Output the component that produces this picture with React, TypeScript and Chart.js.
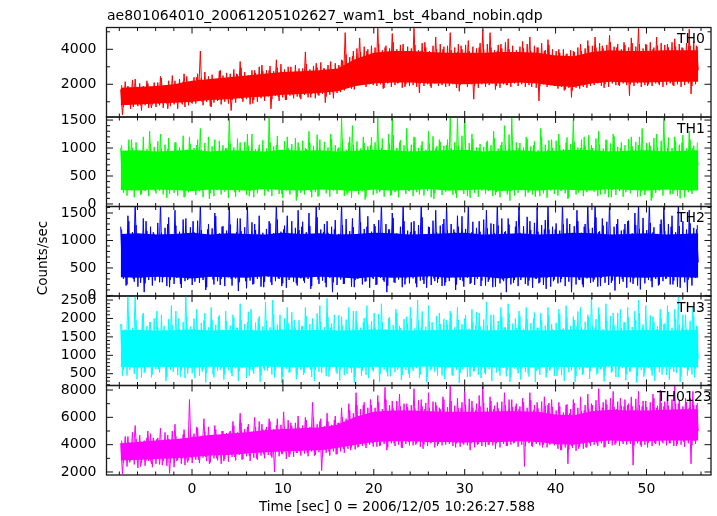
import React, { useEffect, useRef } from 'react';
import { Chart, registerables } from 'chart.js';

Chart.register(...registerables);

const FONT = '"DejaVu Sans", "Liberation Sans", sans-serif';

const titleText = 'ae801064010_20061205102627_wam1_bst_4band_nobin.qdp';
const xTitle = 'Time [sec] 0 = 2006/12/05 10:26:27.588';
const yTitle = 'Counts/sec';
const xTickLabels = [0, 10, 20, 30, 40, 50];

// times of the dense-core envelope samples
const coreTimes = [-7.85, -6, -4, -2, 0, 2, 4, 6, 8, 10, 12, 14, 16, 18, 20, 22, 24, 26, 28, 30, 32, 34, 36, 38, 40, 42, 44, 46, 48, 50, 52, 54, 55.7];
// the noisy traces run uniformly from traceStart to traceEnd (trace B sits half a step after trace A)
const traceStart = -7.85;
const traceEnd = 55.7;

// ---- TH0 ----
const th0CoreLow = [800, 850, 900, 950, 1000, 1100, 1150, 1250, 1300, 1400, 1450, 1500, 1600, 1900, 2050, 2100, 2100, 2050, 2050, 2000, 2050, 2050, 2100, 2050, 1900, 1850, 2050, 2150, 2100, 2100, 2150, 2150, 2150];
const th0CoreHigh = [1800, 1850, 1900, 2000, 2200, 2300, 2400, 2500, 2600, 2700, 2750, 2800, 2900, 3450, 3800, 3900, 3900, 3850, 3800, 3800, 3800, 3850, 3850, 3800, 3650, 3600, 3850, 3950, 3900, 3900, 3950, 3950, 3950];
const th0Trace = [
  1700, 250, 1550, 900, 1900, 1100, 1450, 700, 2300, 1000, 1600, 800, 1350, 1750, 950, 2050, 1200, 650, 1500, 1050,
  1800, 900, 2450, 1250, 1050, 1700, 600, 1550, 1900, 1150, 2200, 1000, 1400, 1750, 850, 2600, 1300, 1100, 1650, 950,
  2000, 1200, 2400, 1350, 3900, 1000, 1800, 2150, 1250, 1900, 700, 2250, 1500, 1850, 1100, 2800, 1400, 1950, 1200, 2100,
  2300, 500, 1900, 1350, 2600, 1450, 3300, 1150, 2050, 1600, 2400, 1250, 2150, 900, 2800, 1500, 2000, 1300, 3100, 1600,
  2350, 1450, 2800, 600, 2100, 1650, 3400, 1300, 2250, 1750, 2600, 1100, 2400, 1550, 3000, 1400, 2200, 1800, 2700, 1250,
  2450, 1500, 3850, 1700, 2300, 1250, 2650, 1800, 3200, 1400, 2500, 1650, 2900, 950, 2350, 1750, 3300, 1550, 2600, 1900,
  2750, 1650, 3400, 2000, 4950, 1850, 2900, 2300, 3600, 1700, 3100, 2450, 4650, 2100, 3300, 2600, 3900, 2250, 3500, 2400,
  3600, 2200, 5200, 2500, 3300, 1750, 4100, 2700, 3500, 2350, 4900, 2600, 3200, 2050, 3800, 2800, 4300, 1850, 3400, 2550,
  3700, 2350, 5200, 2600, 3150, 1500, 3900, 2450, 4400, 2750, 3300, 1900, 3600, 2500, 4700, 2200, 3450, 2650, 4000, 2100,
  3500, 2300, 4950, 2650, 3250, 2000, 3850, 1600, 4200, 2450, 3400, 2750, 4500, 2150, 3300, 1150, 3700, 2550, 4100, 2350,
  5100, 2400, 3500, 2100, 4950, 2700, 3300, 1700, 3900, 2550, 4300, 2250, 3450, 1950, 4600, 2600, 3250, 2300, 3800, 2450,
  3650, 2350, 4450, 2100, 3300, 2700, 4700, 1850, 3550, 2500, 4100, 1050, 3400, 2650, 3900, 2200, 4550, 2450, 3350, 2050,
  3400, 2050, 4000, 2300, 3150, 1650, 3700, 2450, 3300, 1250, 3900, 2200, 3550, 1900, 4300, 2350, 3250, 2550, 4500, 2150,
  3800, 2400, 4700, 2650, 3450, 2100, 4200, 1800, 3650, 2700, 4800, 2300, 3500, 2550, 4100, 1950, 3900, 2600, 4400, 2350,
  3600, 1350, 4650, 2450, 3350, 2700, 5200, 2200, 3750, 2500, 4300, 1900, 3550, 2650, 4000, 2300, 4700, 2050, 3450, 2600,
  3850, 2400, 4300, 2650, 3500, 1950, 4600, 2500, 3700, 2200, 4100, 2700, 3600, 2300, 5150, 1450, 3900, 2550, 4200, 2800,
];
const th0TraceB = [
  1950, 700, 2150, 850, 1800, 600, 2250, 900, 1750, 750, 2050, 500, 1900, 800, 2200, 650, 1850, 850, 2100, 700,
  2100, 800, 2350, 650, 1950, 900, 2200, 750, 2500, 850, 2000, 600, 2300, 950, 2150, 700, 2450, 800, 2050, 900,
  2400, 900, 2600, 1050, 2350, 800, 2700, 1000, 2450, 750, 2550, 950, 2300, 1050, 2750, 850, 2500, 1000, 2650, 900,
  2600, 1100, 2850, 950, 2550, 1200, 2950, 1000, 2700, 1150, 2500, 850, 2800, 1100, 2650, 1000, 3000, 1200, 2750, 1050,
  2800, 1300, 3050, 1150, 2750, 1350, 2950, 1050, 3150, 1250, 2850, 1100, 3000, 1350, 2700, 1200, 3100, 1300, 2900, 1150,
  2900, 1400, 3150, 1250, 2850, 1450, 3050, 1200, 2950, 1350, 3250, 1450, 2900, 1300, 3100, 1400, 2850, 1200, 3200, 1500,
  3100, 1550, 3350, 1650, 3700, 1800, 3550, 1750, 3900, 1900, 4050, 1950, 3850, 2050, 4150, 1850, 4000, 2000, 4200, 1950,
  4100, 1900, 4300, 2000, 3950, 1800, 4200, 2050, 4050, 1850, 4400, 1950, 4000, 2100, 4250, 1800, 3900, 2000, 4150, 1900,
  4050, 1950, 4250, 1850, 3950, 2050, 4350, 1900, 4100, 2000, 3900, 1800, 4200, 2050, 4000, 1900, 4300, 1950, 4150, 1850,
  4200, 1900, 3950, 2000, 4100, 1800, 4300, 1950, 4000, 2050, 4250, 1850, 3900, 2000, 4150, 1900, 4050, 1800, 4350, 2000,
  4000, 1850, 4300, 1950, 4100, 2050, 3950, 1900, 4250, 1800, 4050, 2000, 4400, 1950, 4000, 1850, 4200, 2050, 3950, 1900,
  4150, 2000, 4050, 1850, 4300, 1950, 3900, 2050, 4200, 1800, 4100, 1900, 4350, 2000, 3950, 1850, 4250, 1950, 4000, 1900,
  3900, 1750, 3800, 1850, 4000, 1700, 3750, 1800, 3950, 1650, 3850, 1800, 4100, 1750, 3900, 1850, 4050, 1800, 4200, 1900,
  4200, 1950, 4100, 2050, 4350, 1900, 4050, 2000, 4250, 1850, 4400, 2050, 4150, 1950, 4300, 1900, 4000, 2050, 4250, 1950,
  4100, 2000, 4350, 1900, 4150, 2050, 4300, 1850, 4050, 1950, 4250, 2000, 4400, 1900, 4100, 2050, 4200, 1950, 4350, 1850,
  4250, 1950, 4100, 2050, 4400, 1900, 4150, 2000, 4300, 1850, 4050, 1950, 4350, 2050, 4200, 1900, 4450, 2000, 4150, 2300,
];

// ---- TH1 ----
const th1CoreLow = [250, 240, 260, 250, 230, 260, 250, 240, 270, 250, 240, 260, 250, 230, 260, 240, 250, 270, 240, 250, 260, 230, 250, 240, 260, 250, 240, 270, 250, 240, 260, 250, 240];
const th1CoreHigh = [950, 960, 940, 950, 970, 940, 960, 950, 940, 970, 950, 960, 940, 950, 970, 960, 940, 950, 960, 970, 940, 950, 960, 940, 950, 970, 960, 940, 950, 960, 940, 950, 960];
const th1Trace = [
  1000, 380, 820, 250, 690, 470, 1150, 330, 760, 520, 950, 160, 640, 410, 880, 300, 1300, 450, 720, 230,
  850, 420, 1250, 310, 660, 540, 980, 180, 740, 390, 1100, 280, 620, 480, 900, 120, 780, 350, 1200, 440,
  700, 260, 1050, 430, 1350, 340, 810, 500, 680, 90, 930, 370, 1150, 250, 720, 460, 860, 300, 1000, 410,
  1550, 350, 760, 210, 920, 480, 1100, 300, 650, 420, 1250, 140, 830, 390, 700, 270, 990, 510, 780, 330,
  880, 240, 1550, 400, 720, 310, 1050, 470, 640, 180, 960, 360, 1200, 270, 750, 440, 890, 60, 1100, 380,
  760, 300, 1000, 450, 1300, 220, 690, 390, 880, 130, 1150, 340, 740, 480, 950, 260, 1250, 410, 680, 320,
  990, 280, 1550, 430, 780, 170, 1100, 370, 1400, 250, 720, 460, 930, 310, 1200, 80, 860, 400, 1050, 290,
  870, 350, 1550, 210, 1000, 440, 760, 300, 1250, 150, 1550, 390, 820, 270, 1100, 470, 700, 330, 1350, 240,
  940, 410, 1200, 260, 730, 170, 1050, 380, 860, 300, 1300, 460, 780, 90, 990, 350, 1150, 280, 700, 420,
  1050, 310, 1550, 440, 820, 190, 1550, 360, 900, 240, 1550, 420, 760, 110, 1250, 330, 880, 470, 1000, 270,
  780, 390, 1100, 230, 950, 450, 1300, 160, 720, 350, 1050, 290, 1400, 430, 830, 60, 1550, 370, 900, 250,
  1000, 330, 820, 460, 1200, 200, 750, 390, 1050, 130, 880, 310, 1350, 440, 700, 260, 970, 380, 1150, 300,
  850, 420, 1250, 240, 730, 350, 1100, 90, 900, 460, 1500, 300, 780, 200, 1000, 410, 1200, 280, 690, 370,
  1050, 260, 880, 430, 1300, 170, 760, 390, 1150, 320, 940, 120, 1250, 450, 820, 280, 1000, 360, 730, 210,
  920, 380, 1200, 250, 780, 440, 1050, 140, 1350, 330, 870, 410, 1100, 60, 760, 290, 1250, 400, 950, 310,
  1550, 270, 1000, 420, 830, 180, 1200, 350, 900, 100, 1100, 460, 780, 300, 1300, 230, 1000, 410, 870, 700,
];
const th1TraceB = [
  1050, 200, 950, 150, 1150, 250, 1000, 120, 1100, 280, 920, 180, 1200, 230, 980, 140, 1080, 260, 1020, 190,
  1120, 240, 990, 170, 1060, 110, 1180, 270, 940, 200, 1100, 150, 1010, 250, 1220, 130, 970, 210, 1070, 280,
  1000, 160, 1150, 230, 960, 120, 1090, 270, 1200, 190, 1030, 140, 940, 260, 1130, 170, 1050, 220, 990, 110,
  1080, 250, 1010, 130, 1170, 210, 950, 280, 1110, 160, 1040, 230, 1250, 120, 980, 190, 1060, 270, 1140, 150,
  990, 220, 1100, 140, 1030, 260, 1210, 180, 960, 110, 1120, 240, 1000, 170, 1070, 280, 1180, 130, 1020, 200,
  1130, 170, 980, 250, 1090, 120, 1040, 210, 1240, 150, 960, 270, 1110, 190, 1010, 130, 1160, 240, 1050, 180,
  1010, 270, 1150, 140, 970, 200, 1200, 110, 1060, 250, 1120, 170, 990, 230, 1090, 130, 1030, 260, 1190, 160,
  1100, 190, 1020, 240, 1170, 130, 960, 270, 1080, 160, 1230, 210, 1000, 120, 1140, 250, 1050, 180, 980, 230,
  1060, 140, 1190, 210, 1000, 260, 1120, 150, 970, 230, 1080, 120, 1210, 190, 1030, 270, 1110, 160, 1040, 220,
  1150, 230, 990, 160, 1100, 110, 1040, 250, 1220, 180, 970, 140, 1090, 260, 1160, 200, 1010, 130, 1070, 240,
  1020, 180, 1130, 260, 1050, 140, 1180, 210, 990, 120, 1110, 270, 1040, 170, 1240, 230, 980, 150, 1100, 200,
  1090, 250, 1010, 130, 1160, 220, 1030, 170, 1120, 260, 960, 140, 1200, 190, 1060, 110, 1140, 240, 1000, 180,
  1130, 150, 1050, 240, 980, 190, 1190, 120, 1070, 260, 1110, 170, 1010, 230, 1150, 140, 1040, 210, 1230, 270,
  1000, 220, 1170, 140, 1060, 270, 990, 180, 1140, 120, 1080, 250, 1210, 160, 1020, 230, 1100, 130, 1050, 260,
  1160, 190, 1030, 250, 1110, 130, 1200, 220, 970, 160, 1090, 270, 1040, 110, 1180, 200, 1010, 240, 1130, 150,
  1070, 260, 1190, 170, 1000, 230, 1120, 140, 1060, 250, 1230, 120, 990, 210, 1150, 180, 1040, 270, 1100, 500,
];

// ---- TH2 ----
const th2CoreLow = [330, 320, 340, 330, 310, 340, 330, 320, 350, 330, 320, 340, 330, 310, 340, 320, 330, 350, 320, 330, 340, 310, 330, 320, 340, 330, 320, 350, 330, 320, 340, 330, 320];
const th2CoreHigh = [1120, 1130, 1110, 1120, 1140, 1110, 1130, 1120, 1110, 1140, 1120, 1130, 1110, 1120, 1140, 1130, 1110, 1120, 1130, 1140, 1110, 1120, 1130, 1110, 1120, 1140, 1130, 1110, 1120, 1130, 1110, 1120, 1130];
const th2Trace = [
  1250, 420, 900, 180, 1450, 560, 800, 300, 1700, 480, 1000, 230, 860, 60, 1350, 510, 940, 350, 1150, 270,
  1050, 390, 1700, 240, 880, 530, 1300, 150, 960, 440, 1550, 320, 820, 210, 1100, 470, 1400, 280, 900, 500,
  1350, 250, 950, 460, 1700, 330, 860, 100, 1200, 520, 1000, 290, 1500, 410, 880, 190, 1250, 480, 1050, 340,
  1700, 300, 920, 450, 1150, 80, 1400, 520, 870, 260, 1650, 390, 1000, 200, 1300, 470, 900, 330, 1100, 150,
  1000, 430, 1350, 240, 880, 510, 1700, 310, 950, 170, 1200, 460, 1450, 280, 860, 400, 1100, 220, 1550, 490,
  1250, 270, 900, 440, 1500, 120, 1000, 380, 1700, 290, 880, 500, 1150, 230, 1350, 410, 940, 60, 1200, 350,
  950, 480, 1700, 210, 1100, 360, 850, 520, 1400, 150, 1000, 300, 1700, 440, 900, 250, 1250, 470, 1050, 320,
  1300, 190, 1000, 450, 1700, 280, 870, 60, 1200, 400, 1500, 240, 920, 500, 1100, 330, 1700, 200, 960, 430,
  1150, 360, 1350, 220, 900, 490, 1700, 280, 1000, 140, 1250, 450, 880, 310, 1550, 230, 1050, 420, 1300, 180,
  1700, 330, 950, 470, 1200, 100, 1450, 390, 900, 260, 1050, 500, 1650, 210, 1150, 440, 860, 300, 1350, 170,
  1000, 420, 1550, 250, 880, 480, 1300, 160, 1700, 370, 960, 290, 1150, 60, 1400, 450, 900, 230, 1250, 510,
  1700, 280, 1050, 430, 870, 180, 1350, 470, 1000, 310, 1600, 220, 920, 490, 1200, 120, 1700, 380, 980, 260,
  1200, 450, 950, 240, 1700, 350, 880, 510, 1300, 60, 1050, 420, 1550, 290, 900, 200, 1250, 460, 1700, 330,
  1000, 250, 1700, 480, 1150, 170, 1400, 360, 880, 440, 1700, 230, 1050, 90, 1300, 410, 960, 300, 1200, 500,
  1350, 380, 920, 210, 1500, 470, 1700, 110, 1050, 340, 880, 490, 1700, 260, 1150, 420, 980, 180, 1300, 350,
  1700, 300, 1050, 460, 1250, 200, 900, 390, 1700, 140, 1100, 480, 960, 60, 1550, 330, 1000, 420, 1200, 600,
];
const th2TraceB = [
  1200, 300, 1100, 200, 1350, 350, 1150, 250, 1280, 160, 1080, 320, 1400, 220, 1170, 280, 1250, 180, 1120, 340,
  1320, 240, 1140, 330, 1230, 170, 1420, 290, 1090, 210, 1270, 350, 1160, 140, 1380, 260, 1110, 310, 1240, 190,
  1150, 320, 1360, 230, 1190, 280, 1100, 150, 1300, 340, 1220, 200, 1440, 260, 1130, 300, 1260, 170, 1180, 330,
  1290, 180, 1120, 310, 1400, 240, 1170, 350, 1240, 130, 1080, 270, 1330, 210, 1190, 300, 1450, 160, 1140, 250,
  1210, 340, 1310, 190, 1130, 260, 1380, 300, 1160, 220, 1270, 140, 1100, 330, 1350, 250, 1230, 180, 1190, 310,
  1340, 230, 1150, 300, 1260, 170, 1090, 340, 1420, 210, 1200, 270, 1300, 150, 1140, 320, 1250, 240, 1370, 190,
  1120, 290, 1280, 210, 1390, 330, 1170, 160, 1240, 280, 1110, 350, 1330, 200, 1210, 260, 1440, 140, 1160, 300,
  1260, 200, 1370, 320, 1140, 250, 1300, 180, 1200, 340, 1410, 230, 1130, 290, 1250, 150, 1350, 310, 1180, 220,
  1330, 310, 1170, 150, 1280, 270, 1420, 210, 1110, 330, 1240, 190, 1360, 260, 1150, 300, 1270, 170, 1390, 240,
  1190, 260, 1300, 340, 1150, 200, 1250, 280, 1440, 160, 1210, 320, 1120, 230, 1340, 190, 1230, 350, 1160, 270,
  1380, 180, 1220, 290, 1310, 150, 1130, 330, 1270, 220, 1400, 260, 1170, 310, 1290, 200, 1100, 280, 1350, 170,
  1140, 330, 1260, 210, 1430, 270, 1190, 140, 1320, 300, 1160, 240, 1280, 190, 1370, 320, 1200, 160, 1250, 290,
  1310, 220, 1180, 300, 1290, 170, 1400, 250, 1120, 340, 1260, 200, 1350, 280, 1140, 150, 1300, 310, 1210, 230,
  1230, 290, 1420, 160, 1170, 320, 1270, 230, 1340, 190, 1110, 270, 1250, 340, 1390, 210, 1180, 250, 1300, 140,
  1360, 240, 1130, 310, 1280, 180, 1210, 350, 1410, 220, 1190, 280, 1320, 150, 1240, 300, 1120, 200, 1380, 260,
  1170, 310, 1300, 200, 1450, 270, 1150, 160, 1260, 330, 1350, 240, 1200, 290, 1310, 180, 1230, 320, 1280, 500,
];

// ---- TH3 ----
const th3CoreLow = [680, 670, 690, 680, 660, 690, 680, 670, 700, 680, 670, 690, 680, 660, 690, 670, 680, 700, 670, 680, 690, 660, 680, 670, 690, 680, 670, 700, 680, 670, 690, 680, 670];
const th3CoreHigh = [1680, 1690, 1670, 1680, 1700, 1670, 1690, 1680, 1670, 1700, 1680, 1690, 1670, 1680, 1700, 1690, 1670, 1680, 1690, 1700, 1670, 1680, 1690, 1670, 1680, 1700, 1690, 1670, 1680, 1690, 1670, 1680, 1690];
const th3Trace = [
  1850, 450, 1400, 800, 2650, 600, 1250, 950, 2650, 350, 1600, 700, 2100, 520, 1300, 880, 1900, 400, 1500, 750,
  2200, 620, 1350, 900, 1800, 300, 1450, 780, 2350, 550, 1250, 680, 2000, 420, 1550, 850, 2650, 500, 1300, 720,
  1700, 380, 2250, 820, 1400, 560, 1950, 260, 1500, 740, 2300, 480, 1350, 900, 2050, 600, 1600, 340, 2200, 700,
  1450, 520, 2100, 800, 1750, 300, 2400, 660, 1350, 880, 1900, 450, 2250, 580, 1500, 760, 2000, 280, 1650, 640,
  2450, 580, 1400, 850, 2500, 400, 1600, 720, 2100, 250, 1450, 900, 2300, 530, 1700, 680, 1950, 350, 1550, 800,
  1800, 470, 2300, 760, 1400, 600, 2000, 300, 1650, 840, 2350, 520, 1500, 700, 2550, 420, 1750, 880, 2100, 560,
  1600, 320, 2050, 780, 1450, 500, 2300, 650, 1700, 260, 2200, 860, 1550, 440, 1900, 720, 2350, 380, 1650, 600,
  2150, 700, 1500, 280, 2400, 820, 1700, 540, 2000, 430, 1450, 880, 2250, 610, 1800, 330, 1550, 760, 2050, 500,
  2300, 640, 1600, 860, 2500, 380, 1750, 700, 1450, 270, 2350, 590, 1900, 800, 1550, 450, 2150, 680, 1700, 350,
  1950, 780, 2200, 470, 1500, 880, 2300, 250, 1650, 620, 2000, 740, 1450, 420, 2250, 560, 1800, 860, 2150, 380,
  1700, 520, 2450, 800, 1600, 300, 2100, 690, 1400, 570, 2300, 860, 1750, 430, 2400, 280, 1550, 760, 2000, 610,
  2200, 340, 1650, 840, 2300, 510, 1450, 720, 2000, 270, 1750, 620, 2150, 880, 1500, 400, 2300, 580, 1850, 750,
  1600, 440, 2250, 820, 1700, 300, 2350, 660, 1500, 590, 2050, 280, 1800, 840, 2300, 470, 1550, 720, 2100, 360,
  2650, 800, 1750, 480, 2300, 620, 1550, 290, 2400, 760, 1650, 530, 2150, 880, 1450, 410, 2250, 650, 1900, 320,
  2300, 560, 1600, 860, 2200, 260, 2500, 700, 1750, 420, 2350, 820, 1500, 590, 2050, 300, 1700, 780, 2250, 480,
  1850, 680, 2350, 340, 1600, 820, 2250, 520, 2650, 280, 1750, 760, 2100, 450, 1550, 880, 2300, 400, 1800, 900,
];
const th3TraceB = [
  1850, 600, 1700, 450, 2050, 700, 1750, 500, 1950, 650, 1650, 400, 2150, 550, 1800, 720, 1900, 480, 2000, 620,
  1750, 530, 2100, 680, 1680, 420, 1980, 600, 1820, 700, 2200, 460, 1720, 580, 1900, 380, 2050, 650, 1780, 510,
  2000, 690, 1700, 440, 1880, 620, 2150, 520, 1760, 710, 1950, 400, 1830, 570, 2080, 660, 1690, 470, 1920, 590,
  1810, 430, 2020, 640, 1740, 560, 1960, 700, 1850, 390, 2180, 610, 1700, 500, 1890, 680, 2060, 450, 1780, 590,
  1940, 660, 1760, 480, 2110, 590, 1830, 710, 1690, 420, 2000, 630, 1870, 540, 2170, 690, 1730, 460, 1950, 600,
  1790, 520, 2060, 700, 1850, 410, 1720, 610, 2140, 550, 1910, 680, 1770, 440, 2030, 590, 1860, 720, 1680, 500,
  2090, 620, 1800, 460, 1970, 690, 1710, 530, 2200, 400, 1880, 650, 1750, 580, 2010, 470, 1840, 700, 1930, 560,
  1760, 690, 2120, 500, 1890, 610, 1700, 430, 2040, 670, 1820, 540, 2160, 710, 1740, 460, 1980, 600, 1860, 390,
  2010, 570, 1730, 650, 1940, 480, 2190, 710, 1780, 420, 1920, 630, 1700, 550, 2070, 690, 1850, 450, 1990, 610,
  1830, 700, 2140, 440, 1760, 600, 1960, 520, 1840, 680, 2090, 410, 1720, 640, 1900, 570, 2170, 470, 1790, 660,
  1970, 480, 1810, 620, 2100, 700, 1690, 530, 1930, 450, 2050, 670, 1770, 590, 2130, 400, 1860, 640, 1740, 510,
  2060, 650, 1720, 550, 1990, 420, 1870, 690, 2160, 580, 1750, 470, 1950, 710, 1810, 520, 2080, 630, 1700, 440,
  1880, 590, 2120, 460, 1730, 680, 2020, 540, 1800, 700, 1960, 430, 2190, 610, 1760, 500, 1910, 660, 2040, 570,
  1790, 710, 1980, 520, 2110, 640, 1710, 450, 1930, 690, 2060, 560, 1820, 410, 2150, 620, 1740, 700, 1890, 480,
  2030, 560, 1770, 690, 1950, 430, 2140, 600, 1840, 510, 1720, 670, 2080, 450, 1910, 710, 1790, 540, 2000, 620,
  1860, 470, 2170, 630, 1750, 550, 1990, 700, 1830, 420, 2100, 660, 1710, 590, 1940, 480, 2060, 640, 1800, 900,
];

// ---- TH0123 ----
const thAllCoreLow = [2850, 2900, 2950, 3000, 3100, 3200, 3250, 3350, 3450, 3500, 3550, 3600, 3750, 4000, 4200, 4250, 4250, 4200, 4200, 4150, 4200, 4200, 4250, 4200, 4050, 4000, 4200, 4300, 4250, 4250, 4300, 4300, 4300];
const thAllCoreHigh = [4100, 4200, 4300, 4400, 4550, 4700, 4800, 4900, 5050, 5150, 5200, 5250, 5450, 6050, 6400, 6500, 6500, 6450, 6400, 6400, 6400, 6450, 6450, 6400, 6200, 6150, 6450, 6550, 6500, 6500, 6550, 6600, 6600];
const thAllTrace = [
  4100, 1850, 3900, 3100, 4600, 2700, 3700, 3300, 5400, 2900, 4000, 2400, 3600, 4300, 2850, 5000, 3200, 2600, 4500, 3000,
  4400, 3100, 5200, 2500, 3900, 3400, 4700, 1900, 4100, 3200, 5500, 2800, 3800, 4300, 3000, 5100, 3350, 2700, 7300, 3050,
  4600, 3300, 5300, 2900, 4200, 3600, 5900, 3100, 4500, 2600, 4100, 3500, 5400, 3000, 4700, 3400, 5000, 2800, 4300, 3600,
  4900, 3400, 5700, 3100, 4400, 3800, 6300, 2900, 4700, 3600, 5300, 3200, 4500, 3900, 6000, 3000, 4800, 3500, 5500, 3300,
  5100, 3600, 5900, 3200, 4600, 2000, 5400, 3900, 4800, 3300, 6400, 3700, 4700, 3100, 5600, 3800, 5000, 3400, 6100, 3500,
  5200, 3700, 6000, 3400, 4800, 3900, 7100, 3200, 5000, 3800, 5700, 2100, 4900, 3600, 6300, 3500, 5100, 4000, 5800, 3300,
  5600, 3900, 6700, 3700, 5300, 4300, 7000, 3600, 5500, 4200, 7800, 3800, 5800, 4600, 6900, 4000, 6200, 4400, 7300, 4100,
  6200, 4300, 7600, 3900, 5800, 4800, 8200, 3600, 6400, 4500, 7200, 4100, 6000, 4900, 7700, 3800, 6500, 4600, 7000, 4200,
  6300, 4500, 8100, 4000, 5900, 4800, 7300, 3700, 6600, 4300, 7800, 4100, 6100, 4700, 7100, 3900, 6700, 4400, 7500, 4200,
  6400, 4200, 8300, 4600, 6000, 3800, 7400, 4400, 6700, 4100, 7900, 4700, 6200, 3600, 7200, 4500, 6500, 4000, 7600, 4300,
  8300, 4400, 6300, 4000, 7500, 4700, 6600, 3700, 7100, 4300, 6100, 4600, 7800, 3900, 6500, 4500, 7300, 4100, 6800, 4600,
  6600, 4300, 7400, 2400, 6200, 4600, 7800, 3900, 6500, 4200, 7100, 4700, 6300, 3800, 7500, 4400, 6900, 4000, 7300, 4500,
  6200, 4000, 7100, 3600, 5800, 4400, 6900, 2600, 6300, 3900, 7300, 4300, 6000, 3700, 7500, 4200, 6500, 3800, 7700, 4100,
  7000, 4500, 6400, 4100, 8100, 4700, 6700, 3800, 7300, 4400, 6300, 4800, 7900, 4000, 6600, 4600, 7400, 4200, 6800, 4500,
  6900, 4300, 7500, 2500, 6500, 4700, 7900, 4000, 6800, 4500, 7200, 3800, 6400, 4600, 7700, 4100, 6700, 4400, 8000, 4200,
  6800, 4600, 7600, 4100, 6500, 4400, 8300, 3900, 7000, 4700, 6600, 4200, 7400, 4500, 6700, 2600, 7900, 4300, 6900, 5000,
];
const thAllTraceB = [
  4300, 2700, 4600, 2400, 4150, 2850, 4900, 2550, 4400, 2300, 4700, 2650, 4050, 2450, 4500, 2800, 4800, 2350, 4250, 2600,
  4500, 2550, 4250, 2800, 4900, 2450, 4400, 2700, 5000, 2350, 4600, 2900, 4300, 2600, 4750, 2500, 4450, 2850, 5100, 2650,
  4800, 2900, 5200, 2650, 4600, 3050, 4950, 2800, 5300, 2700, 4700, 3000, 5100, 2850, 4650, 2600, 5000, 2950, 4850, 2750,
  5000, 3100, 5400, 2850, 4900, 3250, 5600, 2950, 5150, 3150, 5500, 2800, 4950, 3050, 5300, 2900, 5700, 3200, 5100, 3000,
  5300, 3250, 5700, 3050, 5150, 3400, 5900, 3150, 5450, 3350, 5200, 2950, 5800, 3300, 5350, 3100, 5600, 3400, 5250, 3200,
  5400, 3350, 5800, 3150, 5300, 3500, 6000, 3250, 5500, 3450, 5900, 3100, 5350, 3400, 5700, 3200, 5450, 3500, 6100, 3300,
  5600, 3500, 6000, 3400, 5900, 3700, 6500, 3800, 6300, 3650, 6900, 3850, 6600, 3900, 7100, 3750, 6700, 4000, 6900, 3850,
  6700, 3850, 7100, 3950, 6600, 4050, 7300, 3800, 6900, 4100, 6650, 3900, 7200, 4000, 6800, 3750, 7000, 4050, 6750, 3950,
  6900, 3950, 6650, 4100, 7250, 3850, 6800, 4000, 7050, 3900, 6700, 4150, 7150, 3800, 6850, 4050, 6600, 3950, 7300, 4000,
  6750, 4050, 7200, 3900, 6850, 4100, 6650, 3850, 7100, 4000, 6900, 3950, 7350, 4100, 6700, 3800, 7000, 4050, 6800, 3900,
  7050, 3850, 6700, 4000, 7200, 3950, 6850, 4100, 6650, 3800, 7150, 4050, 6900, 3900, 7300, 4000, 6750, 4150, 7000, 3850,
  6800, 4000, 7100, 3900, 6700, 4100, 7250, 3850, 6900, 4050, 6650, 3950, 7150, 4000, 6850, 3800, 7050, 4100, 6750, 3950,
  6500, 3700, 6800, 3600, 6350, 3800, 6950, 3650, 6600, 3750, 7050, 3550, 6700, 3850, 6450, 3700, 6900, 3800, 6600, 3900,
  6900, 4000, 7250, 3900, 6800, 4100, 7100, 3850, 6950, 4050, 7400, 3950, 6750, 4100, 7150, 3900, 6850, 4050, 7300, 4000,
  7000, 4050, 6800, 3950, 7350, 4100, 6900, 3850, 7200, 4000, 6750, 4150, 7100, 3900, 7400, 4050, 6850, 3950, 7050, 4100,
  7150, 3950, 6850, 4100, 7300, 3900, 6950, 4050, 7250, 4000, 6800, 3850, 7100, 4100, 7400, 3950, 6900, 4050, 7050, 4500,
];

const X_MIN = -9.41;
const X_MAX = 57.1;
const CANVAS_W = 717;
const CANVAS_H = 516;
const AXIS_W = 106.5;
const PAD_RIGHT = 6;

type Panel = {
  name: string;
  color: string;
  low: number[];
  high: number[];
  trace: number[];
  traceB: number[];
  yMin: number;
  yMax: number;
  yLabels: number[];
  minorStep: number;
  majorStep: number;
  top: number;
  bottom: number;
  nameX: number;
};

const panels: Panel[] = [
  { name: 'TH0', color: '#ff0000', low: th0CoreLow, high: th0CoreHigh, trace: th0Trace, traceB: th0TraceB, yMin: 130, yMax: 5245, yLabels: [2000, 4000], minorStep: 1000, majorStep: 2000, top: 27.5, bottom: 117, nameX: 677 },
  { name: 'TH1', color: '#00ff00', low: th1CoreLow, high: th1CoreHigh, trace: th1Trace, traceB: th1TraceB, yMin: -45, yMax: 1555, yLabels: [0, 500, 1000, 1500], minorStep: 100, majorStep: 500, top: 117, bottom: 206.5, nameX: 677 },
  { name: 'TH2', color: '#0000ff', low: th2CoreLow, high: th2CoreHigh, trace: th2Trace, traceB: th2TraceB, yMin: -10, yMax: 1618, yLabels: [0, 500, 1000, 1500], minorStep: 100, majorStep: 500, top: 206.5, bottom: 296, nameX: 677 },
  { name: 'TH3', color: '#00ffff', low: th3CoreLow, high: th3CoreHigh, trace: th3Trace, traceB: th3TraceB, yMin: 180, yMax: 2610, yLabels: [500, 1000, 1500, 2000, 2500], minorStep: 100, majorStep: 500, top: 296, bottom: 385.5, nameX: 677 },
  { name: 'TH0123', color: '#ff00ff', low: thAllCoreLow, high: thAllCoreHigh, trace: thAllTrace, traceB: thAllTraceB, yMin: 1780, yMax: 8330, yLabels: [2000, 4000, 6000, 8000], minorStep: 1000, majorStep: 2000, top: 385.5, bottom: 475, nameX: 657 },
];

function makeDecor(p: Panel, idx: number) {
  return {
    id: 'decor' + idx,
    afterDraw(chart: any) {
      const { ctx, chartArea: a, scales } = chart;
      const xs = scales.x;
      const ys = scales.y;
      ctx.save();
      ctx.strokeStyle = '#111';
      ctx.lineWidth = 1;
      ctx.beginPath();
      for (let v = -8; v <= 56; v += 2) {
        const px = xs.getPixelForValue(v);
        const len = v % 10 === 0 ? 6 : 3.5;
        ctx.moveTo(px, a.top);
        ctx.lineTo(px, a.top + len);
        ctx.moveTo(px, a.bottom);
        ctx.lineTo(px, a.bottom - len);
      }
      const start = Math.ceil(p.yMin / p.minorStep) * p.minorStep;
      for (let v = start; v <= p.yMax; v += p.minorStep) {
        const py = ys.getPixelForValue(v);
        const len = v % p.majorStep === 0 ? 6.5 : 3.5;
        ctx.moveTo(a.left, py);
        ctx.lineTo(a.left + len, py);
        ctx.moveTo(a.right, py);
        ctx.lineTo(a.right - len, py);
      }
      ctx.stroke();
      ctx.lineWidth = 1.3;
      ctx.strokeStyle = '#1a1a1a';
      ctx.strokeRect(a.left, a.top, a.right - a.left, a.bottom - a.top);

      ctx.fillStyle = '#000';
      ctx.font = `14px ${FONT}`;
      ctx.textAlign = 'left';
      ctx.textBaseline = 'alphabetic';
      ctx.fillText(p.name, p.nameX, a.top + 15.5);

      if (idx === 0) {
        ctx.font = `14px ${FONT}`;
        ctx.fillText(titleText, 107, 20);
      }
      if (idx === 2) {
        ctx.save();
        ctx.font = `13.5px ${FONT}`;
        ctx.translate(46.5, 258);
        ctx.rotate(-Math.PI / 2);
        ctx.textAlign = 'center';
        ctx.fillText(yTitle, 0, 0);
        ctx.restore();
      }
      if (idx === panels.length - 1) {
        ctx.font = `13.5px ${FONT}`;
        ctx.textAlign = 'center';
        ctx.fillText(xTitle, 397, 511);
      }
      ctx.restore();
    },
  };
}

export default function App() {
  const refs = useRef<(HTMLCanvasElement | null)[]>([]);

  useEffect(() => {
    const n = th0Trace.length;
    const step = (traceEnd - traceStart) / (n - 1);
    const timeA = (i: number) => traceStart + i * step;
    const timeB = (i: number) => traceStart + (i + 0.5) * step;
    const charts: Chart[] = [];
    panels.forEach((p, idx) => {
      const canvas = refs.current[idx];
      if (!canvas) return;
      const last = idx === panels.length - 1;
      const chart = new Chart(canvas, {
        type: 'line',
        data: {
          datasets: [
            {
              data: coreTimes.map((t, k) => ({ x: t, y: p.low[k] })),
              borderWidth: 0,
              borderColor: 'transparent',
              pointRadius: 0,
              fill: false,
            },
            {
              data: coreTimes.map((t, k) => ({ x: t, y: p.high[k] })),
              borderWidth: 0,
              borderColor: 'transparent',
              backgroundColor: p.color,
              pointRadius: 0,
              fill: '-1',
            },
            {
              data: p.trace.map((v, k) => ({ x: timeA(k), y: v })),
              borderWidth: 1,
              borderColor: p.color,
              pointRadius: 0,
              fill: false,
            },
            {
              data: p.traceB.slice(0, n - 1).map((v, k) => ({ x: timeB(k), y: v })),
              borderWidth: 1,
              borderColor: p.color,
              pointRadius: 0,
              fill: false,
            },
          ],
        },
        options: {
          responsive: false,
          animation: false,
          devicePixelRatio: 1,
          events: [],
          layout: {
            padding: {
              left: 0,
              right: PAD_RIGHT,
              top: p.top,
              bottom: last ? 0 : CANVAS_H - p.bottom,
            },
          },
          plugins: {
            legend: { display: false },
            tooltip: { enabled: false },
            title: { display: false },
          },
          scales: {
            x: {
              type: 'linear',
              position: 'bottom',
              min: X_MIN,
              max: X_MAX,
              display: last,
              grid: { display: false, drawTicks: false },
              border: { display: false },
              afterBuildTicks: (s: any) => {
                s.ticks = xTickLabels.map((v) => ({ value: v }));
              },
              afterFit: (s: any) => {
                if (last) s.height = CANVAS_H - p.bottom;
              },
              ticks: {
                font: { family: FONT, size: 14 },
                color: '#000',
                padding: 6,
                maxRotation: 0,
                autoSkip: false,
                callback: (v: any) => String(v),
              },
            },
            y: {
              type: 'linear',
              position: 'left',
              min: p.yMin,
              max: p.yMax,
              grid: { display: false, drawTicks: false },
              border: { display: false },
              afterBuildTicks: (s: any) => {
                s.ticks = p.yLabels.map((v) => ({ value: v }));
              },
              afterFit: (s: any) => {
                s.width = AXIS_W;
              },
              ticks: {
                font: { family: FONT, size: 14 },
                color: '#000',
                padding: 10,
                autoSkip: false,
                callback: (v: any) => String(v),
              },
            },
          },
        },
        plugins: [makeDecor(p, idx)],
      } as any);
      charts.push(chart);
    });
    return () => {
      charts.forEach((c) => c.destroy());
    };
  }, []);

  return (
    <div
      style={{
        position: 'fixed',
        left: 0,
        top: 0,
        width: CANVAS_W,
        height: CANVAS_H,
        background: '#fff',
      }}
    >
      {panels.map((p, i) => (
        <canvas
          key={p.name}
          ref={(el) => {
            refs.current[i] = el;
          }}
          width={CANVAS_W}
          height={CANVAS_H}
          style={{ position: 'absolute', left: 0, top: 0, width: CANVAS_W, height: CANVAS_H }}
        />
      ))}
    </div>
  );
}
